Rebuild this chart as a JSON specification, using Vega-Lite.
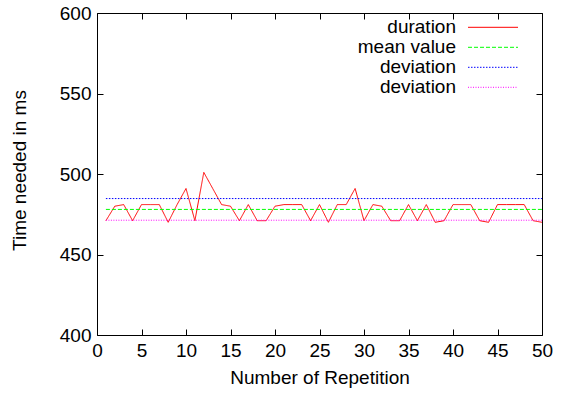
{
  "$schema": "https://vega.github.io/schema/vega-lite/v6.json",
  "width": 445,
  "height": 322,
  "autosize": {"type": "none"},
  "padding": {"left": 97, "top": 13, "right": 19, "bottom": 67},
  "background": "white",
  "config": {
    "view": {"stroke": "black", "strokeWidth": 1},
    "font": "Liberation Sans",
    "axis": {
      "grid": false,
      "domain": false,
      "tickColor": "black",
      "tickSize": -6,
      "tickWidth": 1,
      "labelFont": "Liberation Sans",
      "labelFontSize": 19,
      "labelColor": "black",
      "titleFont": "Liberation Sans",
      "titleFontSize": 19,
      "titleFontWeight": "normal",
      "titleColor": "black"
    }
  },
  "data": {
    "values": [
      {"x": 1, "y": 471, "series": "duration"},
      {"x": 2, "y": 480, "series": "duration"},
      {"x": 3, "y": 481, "series": "duration"},
      {"x": 4, "y": 471, "series": "duration"},
      {"x": 5, "y": 481, "series": "duration"},
      {"x": 6, "y": 481, "series": "duration"},
      {"x": 7, "y": 481, "series": "duration"},
      {"x": 8, "y": 470, "series": "duration"},
      {"x": 9, "y": 481, "series": "duration"},
      {"x": 10, "y": 491, "series": "duration"},
      {"x": 11, "y": 471, "series": "duration"},
      {"x": 12, "y": 501, "series": "duration"},
      {"x": 13, "y": 491, "series": "duration"},
      {"x": 14, "y": 481, "series": "duration"},
      {"x": 15, "y": 480, "series": "duration"},
      {"x": 16, "y": 471, "series": "duration"},
      {"x": 17, "y": 481, "series": "duration"},
      {"x": 18, "y": 471, "series": "duration"},
      {"x": 19, "y": 471, "series": "duration"},
      {"x": 20, "y": 480, "series": "duration"},
      {"x": 21, "y": 481, "series": "duration"},
      {"x": 22, "y": 481, "series": "duration"},
      {"x": 23, "y": 481, "series": "duration"},
      {"x": 24, "y": 471, "series": "duration"},
      {"x": 25, "y": 481, "series": "duration"},
      {"x": 26, "y": 470, "series": "duration"},
      {"x": 27, "y": 481, "series": "duration"},
      {"x": 28, "y": 481, "series": "duration"},
      {"x": 29, "y": 491, "series": "duration"},
      {"x": 30, "y": 471, "series": "duration"},
      {"x": 31, "y": 481, "series": "duration"},
      {"x": 32, "y": 480, "series": "duration"},
      {"x": 33, "y": 471, "series": "duration"},
      {"x": 34, "y": 471, "series": "duration"},
      {"x": 35, "y": 481, "series": "duration"},
      {"x": 36, "y": 471, "series": "duration"},
      {"x": 37, "y": 481, "series": "duration"},
      {"x": 38, "y": 470, "series": "duration"},
      {"x": 39, "y": 471, "series": "duration"},
      {"x": 40, "y": 481, "series": "duration"},
      {"x": 41, "y": 481, "series": "duration"},
      {"x": 42, "y": 481, "series": "duration"},
      {"x": 43, "y": 471, "series": "duration"},
      {"x": 44, "y": 470, "series": "duration"},
      {"x": 45, "y": 481, "series": "duration"},
      {"x": 46, "y": 481, "series": "duration"},
      {"x": 47, "y": 481, "series": "duration"},
      {"x": 48, "y": 481, "series": "duration"},
      {"x": 49, "y": 471, "series": "duration"},
      {"x": 50, "y": 470, "series": "duration"},
      {"x": 1, "y": 478.0, "series": "mean value"},
      {"x": 50, "y": 478.0, "series": "mean value"},
      {"x": 1, "y": 484.75, "series": "deviation"},
      {"x": 50, "y": 484.75, "series": "deviation"},
      {"x": 1, "y": 471.3, "series": "deviation2"},
      {"x": 50, "y": 471.3, "series": "deviation2"}
    ]
  },
  "layer": [
    {
      "mark": {"type": "line", "strokeWidth": 1, "clip": true},
      "encoding": {
        "x": {
          "field": "x", "type": "quantitative",
          "scale": {"domain": [0, 50], "nice": false},
          "axis": {
            "orient": "bottom",
            "values": [0, 5, 10, 15, 20, 25, 30, 35, 40, 45, 50],
            "labelBaseline": "alphabetic",
            "labelPadding": 27,
            "labelFlush": false,
            "title": "Number of Repetition",
            "titleBaseline": "alphabetic",
            "titleY": 48
          }
        },
        "y": {
          "field": "y", "type": "quantitative",
          "scale": {"domain": [400, 600], "nice": false, "zero": false},
          "axis": {
            "orient": "left",
            "values": [400, 450, 500, 550, 600],
            "labelPadding": 12,
            "labelFlush": false,
            "title": "Time needed in ms",
            "titleBaseline": "alphabetic",
            "titleX": -72,
            "titleY": 157
          }
        },
        "color": {
          "field": "series", "type": "nominal",
          "scale": {
            "domain": ["duration", "mean value", "deviation", "deviation2"],
            "range": ["#ff0000", "#00ff00", "#0000ff", "#ff00ff"]
          },
          "legend": {
            "orient": "none", "legendX": 386.5, "legendY": 4.8,
            "title": null, "padding": 0,
            "labelFont": "Liberation Sans", "labelFontSize": 19, "labelColor": "black",
            "labelAlign": "right", "labelOffset": -46.5, "labelLimit": 300,
            "symbolType": "M-10,0H10", "symbolSize": 25, "symbolStrokeWidth": 1,
            "rowPadding": -0.6,
            "labelExpr": "datum.label == 'deviation2' ? 'deviation' : datum.label"
          }
        },
        "strokeDash": {
          "field": "series", "type": "nominal",
          "scale": {
            "domain": ["duration", "mean value", "deviation", "deviation2"],
            "range": [[1, 0], [4, 2], [1.5, 1.5], [1, 1.5]]
          },
          "legend": {
            "orient": "none", "legendX": 386.5, "legendY": 4.8,
            "title": null, "padding": 0,
            "labelFont": "Liberation Sans", "labelFontSize": 19, "labelColor": "black",
            "labelAlign": "right", "labelOffset": -46.5, "labelLimit": 300,
            "symbolType": "M-10,0H10", "symbolSize": 25, "symbolStrokeWidth": 1,
            "rowPadding": -0.6,
            "labelExpr": "datum.label == 'deviation2' ? 'deviation' : datum.label"
          }
        }
      }
    },
    {
      "mark": {"type": "point", "opacity": 0},
      "encoding": {
        "x": {
          "field": "x", "type": "quantitative",
          "scale": {"domain": [0, 50], "nice": false},
          "axis": {"orient": "top", "values": [0, 5, 10, 15, 20, 25, 30, 35, 40, 45, 50], "labels": false, "title": null}
        },
        "y": {
          "field": "y", "type": "quantitative",
          "scale": {"domain": [400, 600], "nice": false, "zero": false},
          "axis": {"orient": "right", "values": [400, 450, 500, 550, 600], "labels": false, "title": null}
        }
      }
    }
  ],
  "resolve": {"axis": {"x": "independent", "y": "independent"}}
}
